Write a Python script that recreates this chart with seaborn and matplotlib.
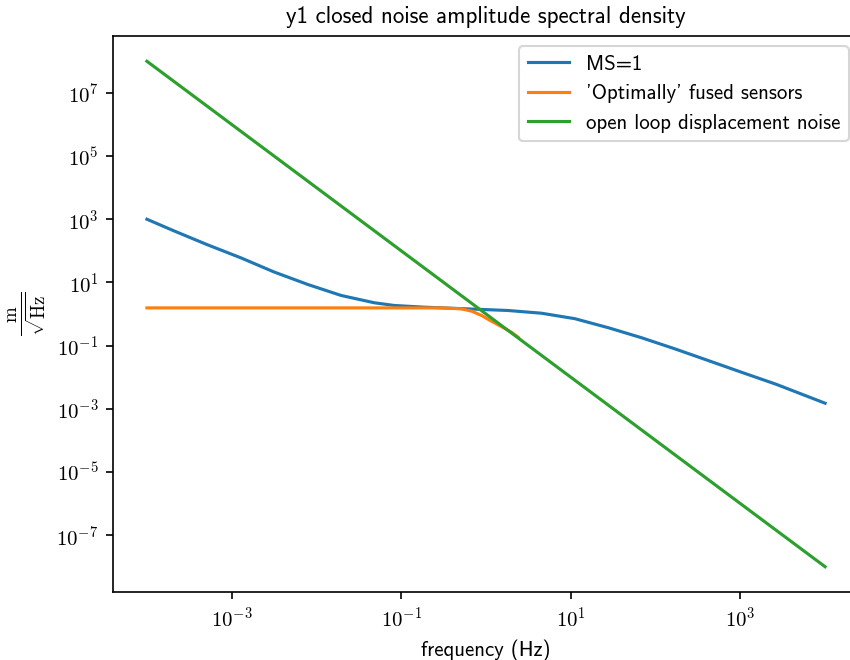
import seaborn as sns
import matplotlib.pyplot as plt
import matplotlib.ticker as mticker
import numpy as np
import pandas as pd

# values (log-log)
blue_x = [1e-4, 2.09e-4, 5.1e-4, 1.29e-3, 3.16e-3, 7.9e-3, 0.0195, 0.048, 0.083, 0.19,
          0.45, 1.83, 4.5, 11.2, 27.9, 69, 170, 427, 1050, 2630, 1e4]
blue_y = [1000, 427, 158, 59.6, 21.4, 8.6, 3.87, 2.27, 1.86, 1.64,
          1.50, 1.29, 1.06, 0.71, 0.366, 0.176, 0.0785, 0.033, 0.0141, 0.0060, 0.0015]

orange_x = [1e-4, 1e-2, 0.297, 0.51, 0.676, 0.89, 1.16, 1.52, 2.0, 2.4]
orange_y = [1.56, 1.56, 1.56, 1.46, 1.23, 0.895, 0.59, 0.40, 0.264, 0.183]

green_x = [1e-4, 1e-3, 1e-2, 1e-1, 1, 10, 100, 1e3, 1e4]
green_y = [1e8, 1e6, 1e4, 1e2, 1, 1e-2, 1e-4, 1e-6, 1e-8]

labels = ["MS=1", "'Optimally' fused sensors", "open loop displacement noise"]

plt.rcParams['font.family'] = ['cmss10', 'DejaVu Sans']
plt.rcParams['mathtext.fontset'] = 'cm'
plt.rcParams['axes.unicode_minus'] = True

fig = plt.figure(figsize=(850 / 150, 660 / 150), dpi=150)
ax = fig.add_axes([113 / 850, 1 - 592 / 660, 746 / 850, 556 / 660])

series = [(blue_x, blue_y, 'tab:blue'),
          (orange_x, orange_y, 'tab:orange'),
          (green_x, green_y, 'tab:green')]
for (xs, ys, c), lab in zip(series, labels):
    df = pd.DataFrame({'f': xs, 'asd': ys})
    sns.lineplot(data=df, x='f', y='asd', ax=ax, color=c, linewidth=1.5, label=lab)

ax.set_xscale('log')
ax.set_yscale('log')
ax.set_xticks([1e-3, 1e-1, 1e1, 1e3])
ax.set_yticks([1e-7, 1e-5, 1e-3, 1e-1, 1e1, 1e3, 1e5, 1e7])
ax.xaxis.set_minor_locator(mticker.NullLocator())
ax.yaxis.set_minor_locator(mticker.NullLocator())

# computer-modern style tick labels
pow_fmt = mticker.FuncFormatter(lambda v, p: r'$\mathrm{10^{%d}}$' % round(np.log10(v)))
ax.xaxis.set_major_formatter(pow_fmt)
ax.yaxis.set_major_formatter(pow_fmt)

ax.set_title('y1 closed noise amplitude spectral density', fontsize=11)
ax.set_xlabel('frequency (Hz)')
ax.set_ylabel(r'$\frac{\mathrm{m}}{\sqrt{\mathrm{Hz}}}$', fontsize=13)
ax.legend(loc='upper right')

fig.savefig('out.png', dpi=150)
